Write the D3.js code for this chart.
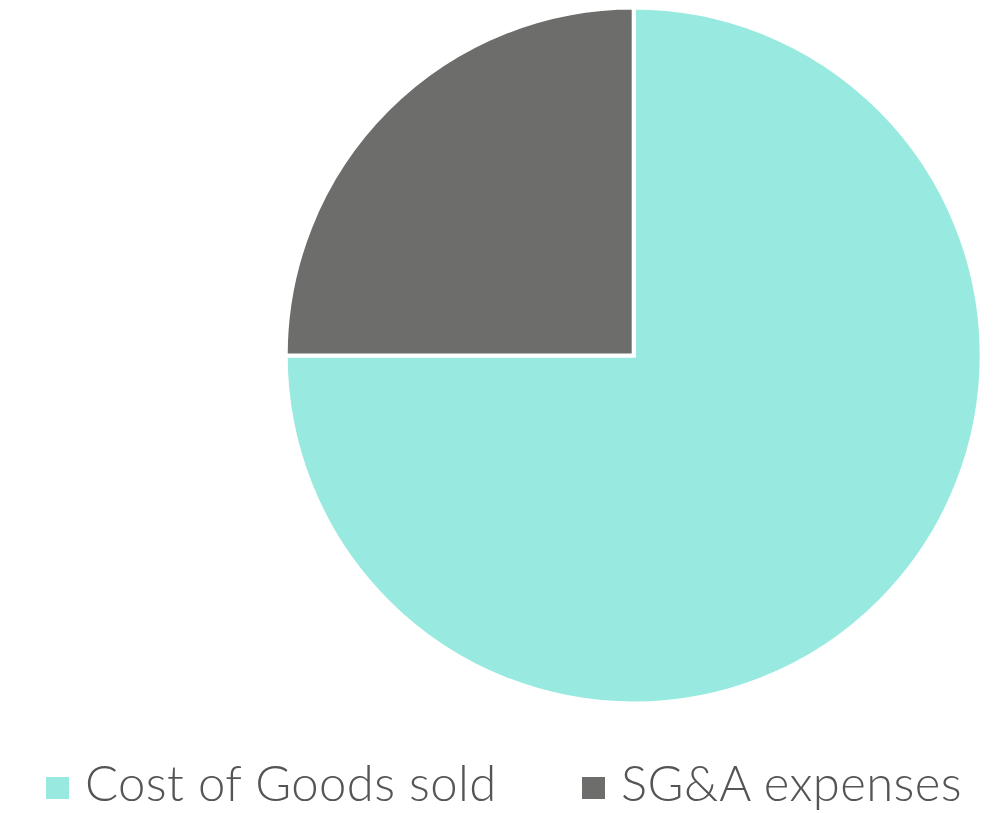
<!DOCTYPE html>
<html>
<head>
<meta charset="utf-8">
<script src="https://cdn.jsdelivr.net/npm/d3@7"></script>
<style>
  html, body { margin: 0; padding: 0; background: #ffffff; }
  svg { display: block; }
</style>
</head>
<body>
<svg id="chart" width="998" height="813"></svg>
<script>
// Expense breakdown
const categories = ["Cost of Goods sold", "SG&A expenses"];
const values = [75, 25];
const colors = ["#98e9df", "#6d6e6b"];

const svg = d3.select("#chart");
const cx = 633.7, cy = 355.5, radius = 348;

const color = d3.scaleOrdinal().domain(categories).range(colors);

const pie = d3.pie().sort(null).value(d => d.value);
const arc = d3.arc().innerRadius(0).outerRadius(radius);

const data = categories.map((c, i) => ({ name: c, value: values[i] }));

svg.append("g")
  .attr("transform", `translate(${cx},${cy})`)
  .selectAll("path")
  .data(pie(data))
  .join("path")
  .attr("d", arc)
  .attr("fill", d => color(d.data.name))
  .attr("stroke", "#ffffff")
  .attr("stroke-width", 4)
  .attr("stroke-linejoin", "miter");

// Legend
const legendX = [46, 582];
const legend = svg.append("g");
const items = legend.selectAll("g")
  .data(data)
  .join("g")
  .attr("transform", (d, i) => `translate(${legendX[i]},777)`);

items.append("rect")
  .attr("width", 23)
  .attr("height", 22)
  .attr("fill", d => color(d.name));

items.append("text")
  .attr("x", 39)
  .attr("y", 24)
  .attr("font-family", "Lato, 'Open Sans', sans-serif")
  .attr("font-weight", 300)
  .attr("font-size", 49)
  .attr("letter-spacing", 0.4)
  .attr("fill", "#555555")
  .text(d => d.name);
</script>
</body>
</html>
